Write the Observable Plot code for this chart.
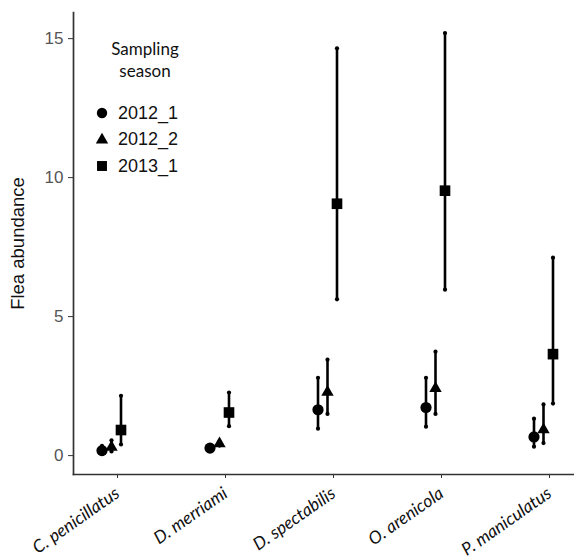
<!DOCTYPE html>
<html>
<head>
<meta charset="utf-8">
<script src="https://cdn.jsdelivr.net/npm/d3@7"></script>
<script src="https://cdn.jsdelivr.net/npm/@observablehq/plot@0.6"></script>
<style>
  html, body { margin: 0; padding: 0; background: #fff; }
  #wrap { position: relative; width: 574px; height: 560px; }
  #legend { position: absolute; left: 90px; top: 38px; font-family: "Liberation Sans", Arial, sans-serif; color: #111; }
  #legend .title { font-family: Lato, "Noto Sans", sans-serif; font-size: 17px; line-height: 22px; text-align: center; width: 110px; }
  #legend .item { display: flex; align-items: center; height: 26.5px; font-size: 18px; }
  #legend .item svg { width: 22px; height: 20px; margin-right: 5px; margin-left: 1px; }
</style>
</head>
<body>
<div id="wrap"></div>
<script>
// ---- data ----
const species = ["C. penicillatus", "D. merriami", "D. spectabilis", "O. arenicola", "P. maniculatus"];
const seasons = ["2012_1", "2012_2", "2013_1"];

const mean2012_1 = [0.18, 0.27, 1.65, 1.73, 0.67];
const lo2012_1   = [0.06, 0.20, 0.97, 1.04, 0.32];
const hi2012_1   = [0.35, 0.35, 2.80, 2.80, 1.33];

const mean2012_2 = [0.30, 0.43, 2.28, 2.42, 0.93];
const lo2012_2   = [0.15, 0.36, 1.50, 1.50, 0.45];
const hi2012_2   = [0.55, 0.52, 3.45, 3.74, 1.84];

const mean2013_1 = [0.92, 1.55, 9.06, 9.53, 3.65];
const lo2013_1   = [0.40, 1.06, 5.62, 5.97, 1.87];
const hi2013_1   = [2.15, 2.27, 14.65, 15.20, 7.12];

const yTicks = [0, 5, 10, 15];

// ---- build tables ----
const seriesSpec = [
  {season: seasons[0], mean: mean2012_1, lo: lo2012_1, hi: hi2012_1, symbol: "circle",   r: 5.6, dx: -9.5},
  {season: seasons[1], mean: mean2012_2, lo: lo2012_2, hi: hi2012_2, symbol: "triangle", r: 4.6, dx: 0},
  {season: seasons[2], mean: mean2013_1, lo: lo2013_1, hi: hi2013_1, symbol: "square",   r: 6.0, dx: 9.5}
];

const marks = [];
for (const s of seriesSpec) {
  const rows = species.map((sp, i) => ({species: sp, mean: s.mean[i], lo: s.lo[i], hi: s.hi[i]}));
  marks.push(Plot.ruleX(rows, {x: "species", y1: "lo", y2: "hi", dx: s.dx, stroke: "#000", strokeWidth: 2.6}));
  marks.push(Plot.dot(rows, {x: "species", y: "lo", dx: s.dx, r: 2.1, fill: "#000", stroke: "none"}));
  marks.push(Plot.dot(rows, {x: "species", y: "hi", dx: s.dx, r: 2.1, fill: "#000", stroke: "none"}));
  marks.push(Plot.dot(rows, {x: "species", y: "mean", dx: s.dx, symbol: () => s.symbol, r: s.r, fill: "#000", stroke: "none"}));
}

const chart = Plot.plot({
  width: 574,
  height: 560,
  marginLeft: 73,
  marginRight: 0,
  marginTop: 12,
  marginBottom: 86,
  style: {background: "#fff", fontFamily: "'Liberation Sans', Arial, sans-serif"},
  x: {type: "point", domain: species, range: [110, 543], padding: 0},
  y: {domain: [-0.68, 15.94]},
  symbol: {type: "identity"},
  marks: [
    Plot.axisY({ticks: yTicks, tickSize: 5, tickPadding: 5, fontSize: 17, color: "#555", stroke: "#333", label: null}),
    Plot.axisX({tickSize: 4, tickPadding: 13, dx: 6, tickRotate: -35, fontSize: 17.5, fontStyle: "italic",
                fontFamily: "Lato, 'Noto Sans', sans-serif", fill: "#111", stroke: "#333", label: null}),
    Plot.frame({anchor: "left", stroke: "#333", strokeWidth: 1.7}),
    Plot.frame({anchor: "bottom", stroke: "#333", strokeWidth: 1.7}),
    Plot.text(["Flea abundance"], {frameAnchor: "left", textAnchor: "middle", dx: -55, rotate: -90, fontSize: 18.5, fill: "#111"}),
    ...marks
  ]
});

const wrap = document.getElementById("wrap");
wrap.appendChild(chart);

// ---- legend ----
const legend = document.createElement("div");
legend.id = "legend";
const symPaths = {
  circle: d3.symbol(d3.symbolCircle, Math.PI * 5.2 * 5.2)(),
  triangle: d3.symbol(d3.symbolTriangle, Math.PI * 4.6 * 4.6)(),
  square: d3.symbol(d3.symbolSquare, Math.PI * 5.6 * 5.6)()
};
let html = `<div class="title">Sampling<br>season</div><div style="height:18px"></div>`;
for (const s of seriesSpec) {
  html += `<div class="item"><svg viewBox="-11 -10 22 20"><path d="${symPaths[s.symbol]}" fill="#000"/></svg><span>${s.season}</span></div>`;
}
legend.innerHTML = html;
wrap.appendChild(legend);
</script>
</body>
</html>
